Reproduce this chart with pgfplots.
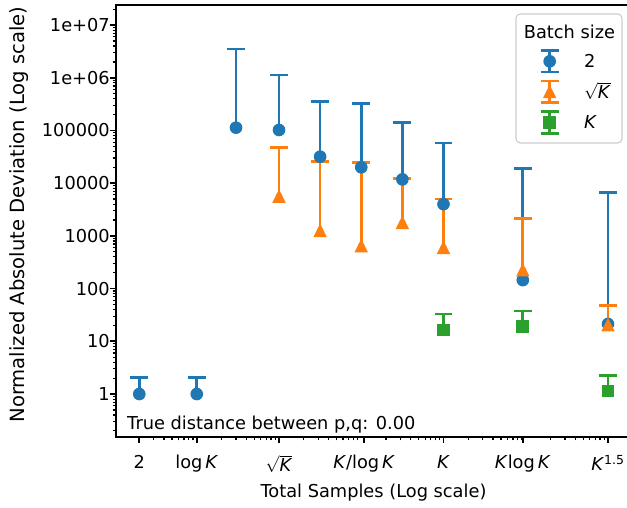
\documentclass[border=0pt]{standalone}
\usepackage{fontspec}
\setmainfont{DejaVu Sans}
\usepackage{pgfplots}
\usepackage{pgfplotstable}
\pgfplotsset{compat=1.18}

\definecolor{c0}{HTML}{1F77B4}
\definecolor{c1}{HTML}{FF7F0E}
\definecolor{c2}{HTML}{2CA02C}

% upward triangle with equal width and height
\pgfdeclareplotmark{mtri}{%
  \pgfpathmoveto{\pgfqpoint{0pt}{\pgfplotmarksize}}%
  \pgfpathlineto{\pgfqpoint{-\pgfplotmarksize}{-\pgfplotmarksize}}%
  \pgfpathlineto{\pgfqpoint{\pgfplotmarksize}{-\pgfplotmarksize}}%
  \pgfpathclose
  \pgfusepathqfillstroke}

% columns: total samples, mean deviation, upper end of the error bar
\pgfplotstableread{
x y cap
2 1.0 2.04
10 1.0 2.04
30 1.13e5 3.5e6
100 1.02e5 1.13e6
316.2 3.18e4 3.51e5
1000 2.0e4 3.27e5
3162 1.18e4 1.4e5
10000 4.0e3 5.8e4
92103 145 1.88e4
1000000 21.3 6.7e3
}\batchtwo

\pgfplotstableread{
x y cap
100 5.6e3 4.7e4
316.2 1.25e3 2.6e4
1000 643 2.44e4
3162 1.78e3 1.22e4
10000 597 5.0e3
92103 225 2.15e3
1000000 20.4 48
}\batchsqrt

\pgfplotstableread{
x y cap
10000 16.4 33
92103 18.9 37.6
1000000 1.14 2.26
}\batchK

\pgfplotsset{
  ebar/.style={only marks, mark=none, forget plot,
    error bars/.cd, y dir=plus, y explicit, error mark=|,
    error bar style={draw=#1, line width=1.94pt},
    error mark options={draw=#1, line width=1.94pt, mark size=6.4pt}},
  % legend glyph: a bar with a cap at each end and the marker in the middle
  ebarlegend/.style 2 args={legend image code/.code={%
    \pgfpathrectangle{\pgfqpoint{0pt}{-8.8pt}}{\pgfqpoint{13pt}{17.6pt}}%
    \pgfusepath{discard}%
    \draw[sharp corners, line width=1.94pt, #1] (6.5pt,-7.8pt) -- (6.5pt,7.8pt);
    \draw[sharp corners, line width=1.94pt, #1] (0pt,-7.8pt) -- (13pt,-7.8pt);
    \draw[sharp corners, line width=1.94pt, #1] (0pt,7.8pt) -- (13pt,7.8pt);
    \draw[sharp corners, #1, line width=0.9pt] plot[only marks, mark=#2, mark size=4.1pt,
          mark options={solid, fill=#1}] coordinates {(6.5pt,0pt)};}},
}

\begin{document}
\fontsize{12.8}{15}\selectfont
\begin{tikzpicture}
\begin{axis}[
  at={(0,0)}, anchor=south west,
  scale only axis,
  width=370.8pt, height=311.04pt,
  xmode=log, ymode=log,
  xmin=1.042, xmax=1.905e6,
  ymin=0.153, ymax=2.4e7,
  axis line style={line width=1.22pt},
  tick align=outside, tick pos=left,
  major tick length=4.3pt, minor tick length=2.5pt,
  every major tick/.append style={line width=1.2pt, black},
  every minor tick/.append style={line width=0.9pt, black},
  xtick={2,10,100,1086,10000,92103,1000000},
  xticklabels={2, log\,\textit{K}, $\sqrt{\mbox{\textit{K}}}$, \textit{K}/log\,\textit{K},
    \textit{K}, \textit{K}\/log\,\textit{K}, \textit{K}\textsuperscript{1.5}},
  minor xtick={3,4,5,6,7,8,9,20,30,40,50,60,70,80,90,
    200,300,400,500,600,700,800,900,2000,3000,4000,5000,6000,7000,8000,9000,
    20000,30000,40000,50000,60000,70000,80000,90000,
    200000,300000,400000,500000,600000,700000,800000,900000},
  ytick={1,10,100,1000,10000,100000,1000000,10000000},
  yticklabels={1,10,100,1000,10000,100000,1e+06,1e+07},
  minor ytick={0.2,0.3,0.4,0.5,0.6,0.7,0.8,0.9,2,3,4,5,6,7,8,9,
    20,30,40,50,60,70,80,90,200,300,400,500,600,700,800,900,
    2000,3000,4000,5000,6000,7000,8000,9000,
    20000,30000,40000,50000,60000,70000,80000,90000,
    200000,300000,400000,500000,600000,700000,800000,900000,
    2e6,3e6,4e6,5e6,6e6,7e6,8e6,9e6,2e7},
  yticklabel style={anchor=east, inner sep=0pt},
  xticklabel style={anchor=north, inner sep=0pt, yshift=-8.6pt},
  xlabel={Total Samples (Log scale)},
  ylabel={Normalized Absolute Deviation (Log scale)},
  xlabel style={at={(rel axis cs:0.5,0)}, anchor=base, yshift=-43.9pt},
  ylabel style={at={(rel axis cs:0,0.515)}, anchor=base, yshift=66.2pt,
    font=\fontsize{14.1}{16}\selectfont},
  legend cell align=left,
  legend style={at={(rel axis cs:0.8214,0.8986)}, anchor=north west,
    draw=none, fill=none, inner sep=0pt,
    row sep=4.4pt, column sep=17.3pt,
    nodes={inner sep=0pt, text height=13.4pt, text depth=4.2pt}},
]
% error bars first so that every marker sits above them
\addplot[ebar=c0] table[x=x, y=y, y error plus expr=\thisrow{cap}-\thisrow{y}] {\batchtwo};
\addplot[ebar=c1] table[x=x, y=y, y error plus expr=\thisrow{cap}-\thisrow{y}] {\batchsqrt};
\addplot[ebar=c2] table[x=x, y=y, y error plus expr=\thisrow{cap}-\thisrow{y}] {\batchK};

\addplot[only marks, mark=*, c0, mark size=4.1pt,
  mark options={solid, draw=c0, fill=c0, line width=0.9pt},
  ebarlegend={c0}{*}] table[x=x, y=y] {\batchtwo};
\addlegendentry{2}
\addplot[only marks, mark=mtri, c1, mark size=4.1pt,
  mark options={solid, draw=c1, fill=c1, line width=0.9pt},
  ebarlegend={c1}{mtri}] table[x=x, y=y] {\batchsqrt};
\addlegendentry{$\sqrt{\mbox{\textit{K}}}$}
\addplot[only marks, mark=square*, c2, mark size=4.1pt,
  mark options={solid, draw=c2, fill=c2, line width=0.9pt},
  ebarlegend={c2}{square*}] table[x=x, y=y] {\batchK};
\addlegendentry{\textit{K}}

% legend frame and title
\draw[black!20, line width=0.8pt, rounded corners=3pt, fill=white, fill opacity=0.8]
  (rel axis cs:0.7767,0.6806) rectangle (rel axis cs:0.9825,0.9792);
\node[anchor=base, inner sep=0pt] at (rel axis cs:0.8806,0.9229) {Batch size};

\node[anchor=base west, inner sep=0pt, xshift=7.9pt, yshift=5.5pt]
  at (rel axis cs:0,0) {True distance between p,q: 0.00};
\end{axis}
\pgfresetboundingbox
\path (-83.52pt,-51.12pt) rectangle (367.92pt,314.64pt);
\end{tikzpicture}
\end{document}
